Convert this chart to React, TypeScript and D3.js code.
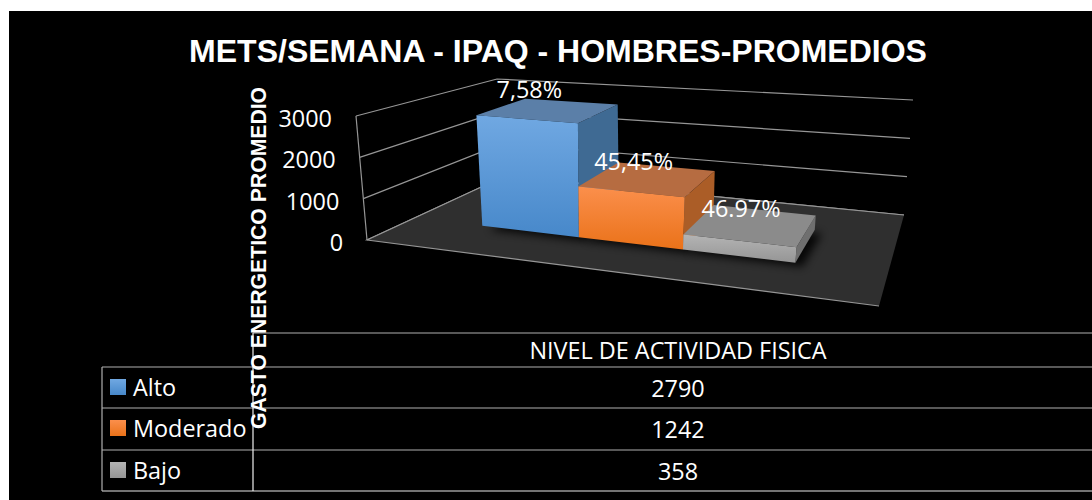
import React from "react";
import * as d3 from "d3";

const categories = ["Alto", "Moderado", "Bajo"];
const values = [2790, 1242, 358];
const percentLabels = ["7,58%", "45,45%", "46.97%"];
const ticks = [0, 1000, 2000, 3000];
const axisCategory = "NIVEL DE ACTIVIDAD FISICA";
const title = "METS/SEMANA - IPAQ - HOMBRES-PROMEDIOS";
const yTitle = "GASTO ENERGETICO PROMEDIO";

const faceColors = [
  { top: "#5b7fa8", side: "#3f6a93", hi: "#70a8e2", lo: "#4788ca" },
  { top: "#b66c41", side: "#ab5d27", hi: "#fb8f4c", lo: "#ea7219" },
  { top: "#8b8b8b", side: "#6f6f6f", hi: "#b4b4b4", lo: "#959595" },
];

const W = 1092, H = 500;

// floor plane: square -> quad projective map
const FL = [367, 240], FR = [879, 306], BR = [904, 215], BL = [505, 176];
const [G, Hh, A, B, D, E] = (() => {
  const dx1 = FR[0] - BR[0], dx2 = BL[0] - BR[0], sx = FL[0] - FR[0] + BR[0] - BL[0];
  const dy1 = FR[1] - BR[1], dy2 = BL[1] - BR[1], sy = FL[1] - FR[1] + BR[1] - BL[1];
  const det = dx1 * dy2 - dx2 * dy1;
  const g = (sx * dy2 - dx2 * sy) / det;
  const h = (dx1 * sy - sx * dy1) / det;
  return [g, h, FR[0] - FL[0] + g * FR[0], BL[0] - FL[0] + h * BL[0], FR[1] - FL[1] + g * FR[1], BL[1] - FL[1] + h * BL[1]];
})();

const hScale = d3.scaleLinear().domain([0, 3000]).range([0, 1]);
const uBand = d3.scaleBand<string>().domain(categories).range([0.165, 0.83]);
const vFront = 0.29, vBack = 0.68;
const lift = d3.scaleLinear().domain([0, 3000]).range([0.5, 13.5]);
const labelShift = d3.scaleLinear().domain([0, 1]).range([-53, -11]);

// height direction at the four floor corners, for full axis height
const upFL = [-11, -124], upBL = [-8, -97], upBR = [9, -115], upFR = [15, -140];

function P(u: number, v: number, value: number): [number, number] {
  const w = G * u + Hh * v + 1;
  const x = (A * u + B * v + FL[0]) / w;
  const y = (D * u + E * v + FL[1]) / w;
  const t = hScale(value);
  const mix = (i: number) =>
    (1 - v) * ((1 - u) * upFL[i] + u * upFR[i]) + v * ((1 - u) * upBL[i] + u * upBR[i]);
  return [x + mix(0) * t, y + mix(1) * t];
}

const poly = (pts: [number, number][]) => pts.map((p) => p.map((n) => n.toFixed(1)).join(",")).join(" ");
const line = d3.line();

const sans = "'Liberation Sans', Arial, sans-serif";
const body = "'Open Sans', sans-serif";
const rowLines = [367, 408, 450];
const rowCenters = [388, 429, 471];
const gridColor = "#969696";
const tableColor = "#b0b0b0";

export default function App() {
  return (
    <svg width={W} height={H} style={{ position: "absolute", left: 0, top: 0, display: "block", background: "#fff" }}>
      <defs>
        {faceColors.map((c, i) => (
          <linearGradient key={i} id={`g${i}`} x1="0" y1="0" x2="0" y2="1">
            <stop offset="0" stopColor={c.hi} />
            <stop offset="1" stopColor={c.lo} />
          </linearGradient>
        ))}
        <filter id="blur" x="-30%" y="-30%" width="160%" height="160%">
          <feGaussianBlur stdDeviation="4" />
        </filter>
        <clipPath id="floorClip">
          <polygon points={poly([P(0, 0, 0), P(1, 0, 0), P(1, 1, 0), P(0, 1, 0)])} />
        </clipPath>
      </defs>
      <rect x={9} y={11} width={W - 9} height={H - 11} fill="#000" />

      <text x={558} y={62} textAnchor="middle" fill="#fff" fontFamily={sans} fontWeight="bold" fontSize={32}>
        {title}
      </text>

      {/* walls */}
      {ticks.map((t) => (
        <path
          key={t}
          d={line([P(0, 0, t), P(0, 1, t), P(1, 1, t)]) ?? ""}
          fill="none"
          stroke={gridColor}
          strokeWidth={1.2}
        />
      ))}
      <path d={line([P(0, 0, 0), P(0, 0, 3000)]) ?? ""} stroke={gridColor} strokeWidth={1.2} fill="none" />

      {/* floor */}
      <polygon points={poly([P(0, 0, 0), P(1, 0, 0), P(1, 1, 0), P(0, 1, 0)])} fill="#2f2f2f" />
      <path d={line([P(0, 1, 0), P(0, 0, 0), P(1, 0, 0)]) ?? ""} fill="none" stroke={gridColor} strokeWidth={1.2} />
      <path d={line([P(0, 1, 0), P(1, 1, 0)]) ?? ""} fill="none" stroke={gridColor} strokeWidth={1.2} />

      {ticks.map((t) => {
        const [x, y] = P(0, 0, t);
        return (
          <text key={t} x={x - 24} y={y + 2} textAnchor="end" dominantBaseline="central" fill="#fff" fontFamily={body} fontSize={23.4}>
            {t}
          </text>
        );
      })}

      {/* bars */}
      <g clipPath="url(#floorClip)">
        {categories.map((c) => {
          const u0 = uBand(c)!, u1 = u0 + uBand.bandwidth();
          return (
            <polygon
              key={c}
              points={poly([P(u0, vFront, 0), P(u1, vFront, 0), P(u1, vBack, 0), P(u0, vBack, 0)])}
              transform="translate(7,4)"
              fill="#000"
              opacity={0.85}
              filter="url(#blur)"
            />
          );
        })}
      </g>
      {categories.map((c, i) => {
        const u0 = uBand(c)!, u1 = u0 + uBand.bandwidth();
        const v = values[i], col = faceColors[i];
        return (
          <g key={c}>
            <polygon points={poly([P(u1, vFront, 0), P(u1, vBack, 0), P(u1, vBack, v), P(u1, vFront, v)])} fill={col.side} />
            <polygon points={poly([P(u0, vFront, v), P(u1, vFront, v), P(u1, vBack, v), P(u0, vBack, v)])} fill={col.top} />
            <polygon points={poly([P(u0, vFront, 0), P(u1, vFront, 0), P(u1, vFront, v), P(u0, vFront, v)])} fill={`url(#g${i})`} />
          </g>
        );
      })}
      {categories.map((c, i) => {
        const uc = uBand(c)! + uBand.bandwidth() / 2;
        const [x, y] = P(uc, vBack, values[i]);
        return (
          <text key={c} x={x + labelShift(uc)} y={y - lift(values[i])} textAnchor="middle" dominantBaseline="central" fill="#fff" fontFamily={body} fontSize={23.4}>
            {percentLabels[i]}
          </text>
        );
      })}

      {/* data table */}
      <path d={`M253,333H${W}`} stroke={tableColor} strokeWidth={1.2} fill="none" />
      {rowLines.map((y) => (
        <path key={y} d={`M102,${y}H${W}`} stroke={tableColor} strokeWidth={1.2} fill="none" />
      ))}
      <path d={`M102,491H${W}`} stroke="#e6e6e6" strokeWidth={1.2} fill="none" />
      <path d="M102,367V491" stroke={tableColor} strokeWidth={1.2} fill="none" />
      <path d="M253,333V491" stroke="#f0f0f0" strokeWidth={1.2} fill="none" />
      <text x={678} y={350} textAnchor="middle" dominantBaseline="central" fill="#fff" fontFamily={body} fontSize={23.4}>
        {axisCategory}
      </text>
      {categories.map((c, i) => (
        <g key={c}>
          <rect x={110} y={rowCenters[i] - 9} width={16} height={16} fill={`url(#g${i})`} />
          <text x={133} y={rowCenters[i] - 1} dominantBaseline="central" fill="#fff" fontFamily={body} fontSize={23.4}>
            {c}
          </text>
          <text x={678} y={rowCenters[i]} textAnchor="middle" dominantBaseline="central" fill="#fff" fontFamily={body} fontSize={23.4}>
            {values[i]}
          </text>
        </g>
      ))}

      <text
        transform="translate(258,258) rotate(-90)"
        textAnchor="middle"
        dominantBaseline="central"
        fill="#fff"
        fontFamily={sans}
        fontWeight="bold"
        fontSize={21.2}
      >
        {yTitle}
      </text>
    </svg>
  );
}
